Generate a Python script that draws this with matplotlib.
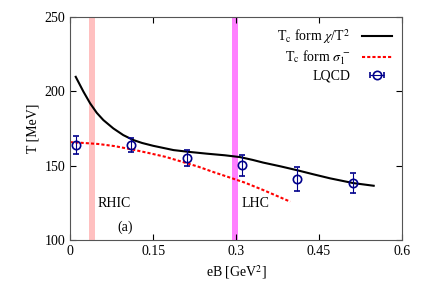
import matplotlib
matplotlib.use("Agg")
import matplotlib.pyplot as plt
import numpy as np

plt.rcParams["font.family"] = ["Liberation Serif", "DejaVu Serif"]
plt.rcParams["mathtext.fontset"] = "stix"

# curva T_c a partir de chi/T^2
eb_chi = [0.010, 0.024, 0.036, 0.048, 0.060, 0.078, 0.096, 0.114, 0.130, 0.150, 0.187,
          0.215, 0.247, 0.280, 0.307, 0.330, 0.349, 0.380, 0.410, 0.440, 0.470, 0.512, 0.549]
tc_chi = [209.8, 199.8, 192.0, 185.6, 180.7, 175.1, 170.6, 167.3, 165.3, 163.4, 160.5,
          159.3, 158.1, 157.0, 155.8, 153.9, 152.1, 149.6, 147.0, 144.2, 141.5, 138.3, 136.5]

# curva T_c a partir de sigma_1
eb_sig = [0.0, 0.009, 0.051, 0.080, 0.111, 0.140, 0.172, 0.200, 0.232, 0.260, 0.289, 0.316, 0.350, 0.398]
tc_sig = [165.8, 165.7, 164.6, 163.2, 161.0, 158.7, 156.0, 152.9, 149.3, 145.6, 142.0, 138.6, 133.5, 125.8]

# pontos de rede
eb_lqcd = [0.010, 0.110, 0.211, 0.310, 0.410, 0.512]
t_lqcd = [163.9, 163.9, 155.4, 150.2, 141.3, 138.1]
t_err = [5.8, 5.0, 5.4, 7.0, 8.0, 6.7]

fig = plt.figure(figsize=(4.28, 3.0), dpi=100)
ax = fig.add_axes([0.164, 0.2, 0.775, 0.743])

ax.axvspan(0.034, 0.044, color="#ffc0c0", lw=0)
ax.axvspan(0.293, 0.304, color="#ff80ff", lw=0)

ax.plot(eb_chi, tc_chi, color="black", lw=1.5, label=r"T$_\mathrm{c}$ form $\chi$/T$^2$")
ax.plot(eb_sig, tc_sig, color="red", lw=1.5, ls=(0, (1.5, 1)), label=r"T$_\mathrm{c}$ form $\sigma_1^{\,-}$")
ax.errorbar(eb_lqcd, t_lqcd, yerr=t_err, fmt="o", mfc="none", mec="#00008b",
            ecolor="#00008b", ms=6, mew=1.2, elinewidth=0.8, capsize=2)
# no gnuplot a legenda mostra a barra na horizontal -> ponto fora da vista só p/ legenda
ax.errorbar([-1], [0], xerr=[0.1], fmt="o", mfc="none", mec="#00008b", ecolor="#00008b",
            ms=6, mew=1.2, elinewidth=0.8, capsize=2, label="LQCD")

ax.text(0.05, 122, "RHIC", fontsize=10)
ax.text(0.31, 122, "LHC", fontsize=10)
ax.text(0.086, 106, "(a)", fontsize=10)

ax.set_xlim(0, 0.6)
ax.set_ylim(100, 250)
ax.set_xticks([0, 0.15, 0.3, 0.45, 0.6])
ax.set_xticklabels(["0", "0.15", "0.3", "0.45", "0.6"])
ax.set_yticks([100, 150, 200, 250])
ax.tick_params(direction="in", top=True, right=True, labelsize=10, length=4)
for s in ax.spines.values():
    s.set_color("#555555")
ax.set_xlabel(r"eB [GeV$^2$]", fontsize=10)
ax.set_ylabel("T [MeV]", fontsize=10)

ax.legend(loc="upper right", frameon=False, markerfirst=False, fontsize=10,
          handlelength=2.2, labelspacing=0.2, borderaxespad=0.3)

fig.savefig("out.png", dpi=100)
